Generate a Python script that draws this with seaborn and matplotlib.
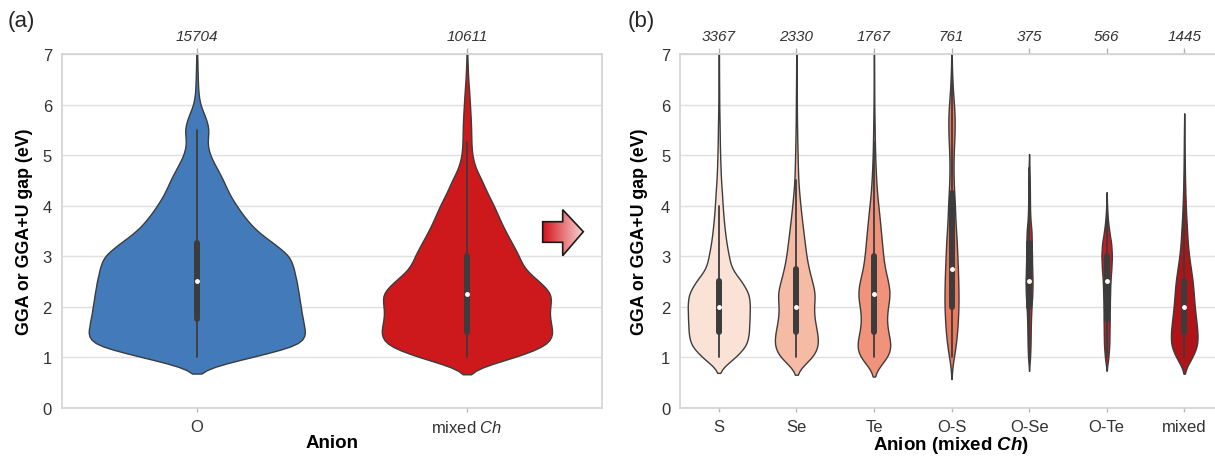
import numpy as np
import pandas as pd
import matplotlib
matplotlib.use("Agg")
import matplotlib.pyplot as plt
from matplotlib.patches import Polygon
from matplotlib.colors import LinearSegmentedColormap
import seaborn as sns

# ---------------- data ----------------
# centres of 0.25 eV gap bins
gap_bins = [1.0, 1.25, 1.5, 1.75, 2.0, 2.25, 2.5, 2.75, 3.0, 3.25, 3.5, 3.75,
            4.0, 4.25, 4.5, 4.75, 5.0, 5.25, 5.5, 5.75, 6.0, 6.25, 6.5, 6.75, 7.0]

# panel (a)
left_categories = ["O", "mixed Ch"]
left_tick_labels = ["O", "mixed $\\mathit{Ch}$"]
left_counts = [15704, 10611]
o_profile = [55, 110, 110, 107, 105, 103, 101, 98, 95, 78, 60, 49,
             40, 32, 27, 20, 13, 10, 13, 9, 3, 1.5, 1, 0.7, 0.5]
mixed_ch_profile = [50, 84, 86, 82, 82, 86, 72, 56, 52, 45, 38, 32,
                    27, 20, 15, 8, 5, 4.3, 4.3, 3.7, 3, 2.3, 1.3, 0.7, 0.4]
left_profiles = [o_profile, mixed_ch_profile]
left_colors = ["#437ab9", "#cd191c"]
left_widths = [0.8, 0.63]
left_bw = [1.0, 1.0]

# panel (b)
right_categories = ["S", "Se", "Te", "O-S", "O-Se", "O-Te", "mixed"]
right_counts = [3367, 2330, 1767, 761, 375, 566, 1445]
s_profile = [18, 30, 31.5, 32, 32.5, 32, 24, 13, 10.5, 8, 6.3, 5,
             4, 3.3, 2.3, 1.8, 1.4, 1.1, 0.9, 0.7, 0.5, 0.4, 0.3, 0.25, 0.2]
se_profile = [19, 24, 22, 19, 18, 20.5, 16.5, 13, 10.5, 9, 7.3, 5.7,
              4.3, 3, 2, 1.6, 1.3, 1.0, 0.8, 0.6, 0.5, 0.4, 0.3, 0.2, 0.2]
te_profile = [16, 17.5, 13.5, 12, 13.5, 16.5, 14, 10.5, 9, 8, 6.7, 5.7,
              4.3, 3, 2.2, 1.6, 1.2, 0.9, 0.7, 0.5, 0.4, 0.3, 0.25, 0.2, 0.2]
os_profile = [3, 5.5, 7, 8, 8.7, 8.7, 8.3, 8, 7, 6.7, 5.5, 4.5,
              4.3, 3.3, 2.5, 2.3, 2.5, 3.3, 4, 4, 3.3, 1.7, 1, 0.5, 0.3]
ose_profile = [1.3, 1.8, 2, 2.3, 3.0, 4, 4.3, 3.8, 3.5, 3.3, 3, 1.5,
               1.1, 1.0, 0.8, 0.5, 0, 0, 0, 0, 0, 0, 0, 0, 0]
ote_profile = [2, 3, 3.2, 3.4, 3.5, 3.8, 4.2, 5.3, 6, 5.2, 2.8, 1.2,
               0.5, 0, 0, 0, 0, 0, 0, 0, 0, 0, 0, 0, 0]
mixed_profile = [9, 14.5, 14, 12.5, 11, 10, 9, 7, 5, 3.7, 3, 2.2,
                 1.6, 1.2, 0.9, 0.7, 0.5, 0.4, 0.3, 0, 0, 0, 0, 0, 0]
right_profiles = [s_profile, se_profile, te_profile, os_profile,
                  ose_profile, ote_profile, mixed_profile]
right_colors = ["#fbe2d6", "#f6bba5", "#f0937a", "#ec7a5e",
                "#c42a2b", "#c41c22", "#b01318"]
right_bw = [0.82, 0.78, 0.78, 0.55, 0.5, 0.62, 0.78]

y_ticks = [0, 1, 2, 3, 4, 5, 6, 7]


def expand(categories, profiles, totals):
    """Histogram (bin centre, relative frequency) -> observations."""
    frames = []
    for cat, prof, tot in zip(categories, profiles, totals):
        w = np.asarray(prof, float)
        n = np.round(w / w.sum() * tot).astype(int)
        frames.append(pd.DataFrame({"anion": cat,
                                    "gap": np.repeat(gap_bins, n)}))
    return pd.concat(frames, ignore_index=True)


df_left = expand(left_categories, left_profiles, left_counts)
df_right = expand(right_categories, right_profiles, right_counts)

# ---------------- style ----------------
sns.set_theme(style="whitegrid")
plt.rcParams["font.family"] = ["Liberation Sans", "DejaVu Sans"]
plt.rcParams["mathtext.fontset"] = "custom"
plt.rcParams["mathtext.rm"] = "Liberation Sans"
plt.rcParams["mathtext.it"] = "Liberation Sans:italic"
plt.rcParams["mathtext.bf"] = "Liberation Sans:bold"
plt.rcParams["mathtext.bfit"] = "Liberation Sans:bold:italic"
plt.rcParams["axes.edgecolor"] = "#d4d4d4"
plt.rcParams["grid.color"] = "#e0e0e0"
plt.rcParams["grid.linewidth"] = 1.0

W, H = 1215, 460
fig = plt.figure(figsize=(W / 100, H / 100), dpi=100)
ax_a = fig.add_axes([61.7 / W, 1 - 408.7 / H, 540.3 / W, 353.7 / H])
ax_b = fig.add_axes([680 / W, 1 - 408.7 / H, 543 / W, 353.7 / H])

line_col = "#3c3c3c"
inner = dict(box_width=4.3, whis_width=1.3, marker="o", markersize=2.6)

for cat, col, wd, bw in zip(left_categories, left_colors, left_widths, left_bw):
    sns.violinplot(data=df_left[df_left["anion"] == cat], x="anion", y="gap",
                   order=left_categories, color=col, saturation=1,
                   density_norm="width", width=wd, cut=2, bw_adjust=bw,
                   linewidth=1.0, linecolor=line_col, inner="box",
                   inner_kws=dict(inner), ax=ax_a)

# violin width proportional to the number of compounds (count scaling)
max_count = max(right_counts)
for cat, col, cnt, bw in zip(right_categories, right_colors, right_counts,
                             right_bw):
    sns.violinplot(data=df_right[df_right["anion"] == cat], x="anion",
                   y="gap", order=right_categories, color=col, saturation=1,
                   density_norm="width", width=0.8 * cnt / max_count, cut=2,
                   bw_adjust=bw, linewidth=1.0, linecolor=line_col,
                   inner="box", inner_kws=dict(inner), ax=ax_b)


def decorate(ax, cats, tick_labels, counts, xlabel, ylab_x, xlab_y):
    ax.set_ylim(0, 7)
    ax.set_yticks(y_ticks)
    ax.set_xlim(-0.5, len(cats) - 0.5)
    ax.set_xticks(range(len(cats)), tick_labels)
    ax.grid(False, axis="x")
    ax.grid(True, axis="y")
    ax.tick_params(axis="x", length=3, width=1, color="#b8b8b8", pad=5,
                   labelsize=12, labelcolor="#333333", bottom=True)
    ax.tick_params(axis="y", length=0, pad=7, labelsize=12,
                   labelcolor="#333333")
    ax.set_xlabel(xlabel, fontsize=13.5, fontweight="bold", color="black")
    ax.set_ylabel("GGA or GGA+U gap (eV)", fontsize=12.8,
                  fontweight="bold", color="black")
    ax.yaxis.set_label_coords(ylab_x, 0.5)
    ax.xaxis.set_label_coords(0.5, xlab_y)
    for s in ax.spines.values():
        s.set_color("#d4d4d4")
    sec = ax.secondary_xaxis("top")
    sec.set_xticks(range(len(cats)), [str(c) for c in counts])
    sec.tick_params(length=4, width=1, color="#b0b0b0", pad=4,
                    labelsize=11, labelcolor="#333333")
    for t in sec.get_xticklabels():
        t.set_fontstyle("italic")
    sec.spines["top"].set_visible(False)


decorate(ax_a, left_categories, left_tick_labels, left_counts, "Anion",
         -0.053, -0.075)
decorate(ax_b, right_categories, right_categories, right_counts,
         "Anion (mixed $\\mathbfit{Ch}$)", -0.059, -0.075)

fig.text(8 / W, 1 - 22 / H, "(a)", fontsize=16, va="center", ha="left")
fig.text(628 / W, 1 - 22 / H, "(b)", fontsize=16, va="center", ha="left")

# gradient arrow between the panels
arrow_ax = fig.add_axes([540 / W, 1 - 259 / H, 46 / W, 51 / H])
arrow_ax.set_xlim(540, 586)
arrow_ax.set_ylim(259, 208)
arrow_ax.axis("off")
verts = [(542.7, 222.7), (562.7, 222.7), (562.7, 210.7), (583.3, 232.7),
         (562.7, 256.7), (562.7, 243.3), (542.7, 243.3)]
poly = Polygon(verts, closed=True, facecolor="none", edgecolor="#1a1a1a",
               linewidth=1.2, zorder=3)
arrow_ax.add_patch(poly)
cmap = LinearSegmentedColormap.from_list("arr", ["#d3141c", "#e8777a", "#f7d6d6"])
img = arrow_ax.imshow(np.linspace(0, 1, 256)[None, :], cmap=cmap,
                      extent=(542.7, 583.3, 256.7, 210.7), aspect="auto",
                      zorder=2)
img.set_clip_path(poly)

fig.savefig("out.png", dpi=100)
